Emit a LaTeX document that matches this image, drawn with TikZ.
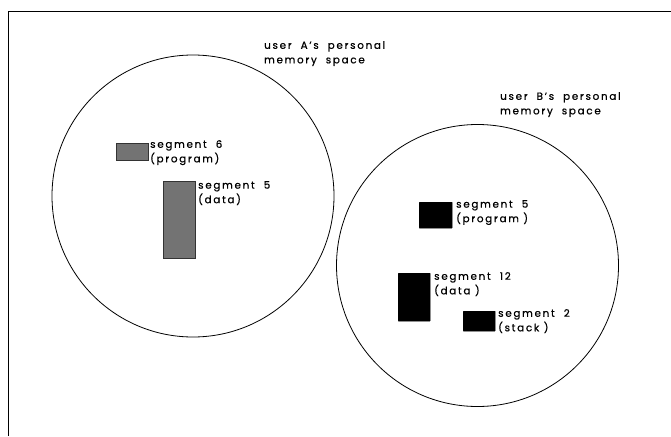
\documentclass[tikz,border=0pt]{standalone}
\usepackage{fontspec}
\newfontfamily\labfont[LetterSpace=17,FakeBold=0.8]{Poppins}
\begin{document}
\begin{tikzpicture}[x=1pt,y=-1pt,
  seggray/.style={draw=black!80,line width=0.9pt,fill=black!55,inner sep=0pt,anchor=north west},
  segblack/.style={draw=black,fill=black,inner sep=0pt,anchor=north west,rounded corners=0.5pt},
  lab/.style={anchor=north west,inner sep=0pt,align=left,font=\labfont\fontsize{10.3}{14.5}\selectfont},
  space/.style={draw=black,line width=0.8pt,circle,inner sep=0pt,minimum size=282pt}]
\useasboundingbox (0,0) rectangle (671,436);
% frame
\coordinate (fbl) at (8,436);
\coordinate (ftl) at (8,11);
\coordinate (ftr) at (671,11);
\draw[line width=0.8pt] (fbl) -- (ftl) -- (ftr);
% memory spaces
\node[space] (spaceA) at (193,196) {};
\node[space] (spaceB) at (477.5,265.5) {};
% user A segments
\node[seggray,minimum width=32pt,minimum height=17pt] (a6) at (116,143) {};
\node[seggray,minimum width=32pt,minimum height=77pt] (a5) at (163,181) {};
% user B segments
\node[segblack,minimum width=33pt,minimum height=26pt] (b5) at (419,202) {};
\node[segblack,minimum width=32pt,minimum height=48pt] (b12) at (398,273) {};
\node[segblack,minimum width=32pt,minimum height=20pt] (b2) at (463,311) {};
% labels
\node[lab] (la) at (264,41) {user\ \ A’s\ \ personal\\memory\ \ space};
\node[lab] (lb) at (500,92) {user\ \ B’s\ \ personal\\memory\ \ space};
\node[lab] (ta6) at (150,140) {segment\ \ 6\\(program)};
\node[lab] (ta5) at (198,181) {segment\ \ 5\\(data)};
\node[lab] (tb5) at (456,200) {segment\ \ 5\\(program )};
\node[lab] (tb12) at (434,272) {segment\ \ 12\\(\,data )};
\node[lab] (tb2) at (498,309) {segment\ \ 2\\(stack )};
\end{tikzpicture}
\end{document}
